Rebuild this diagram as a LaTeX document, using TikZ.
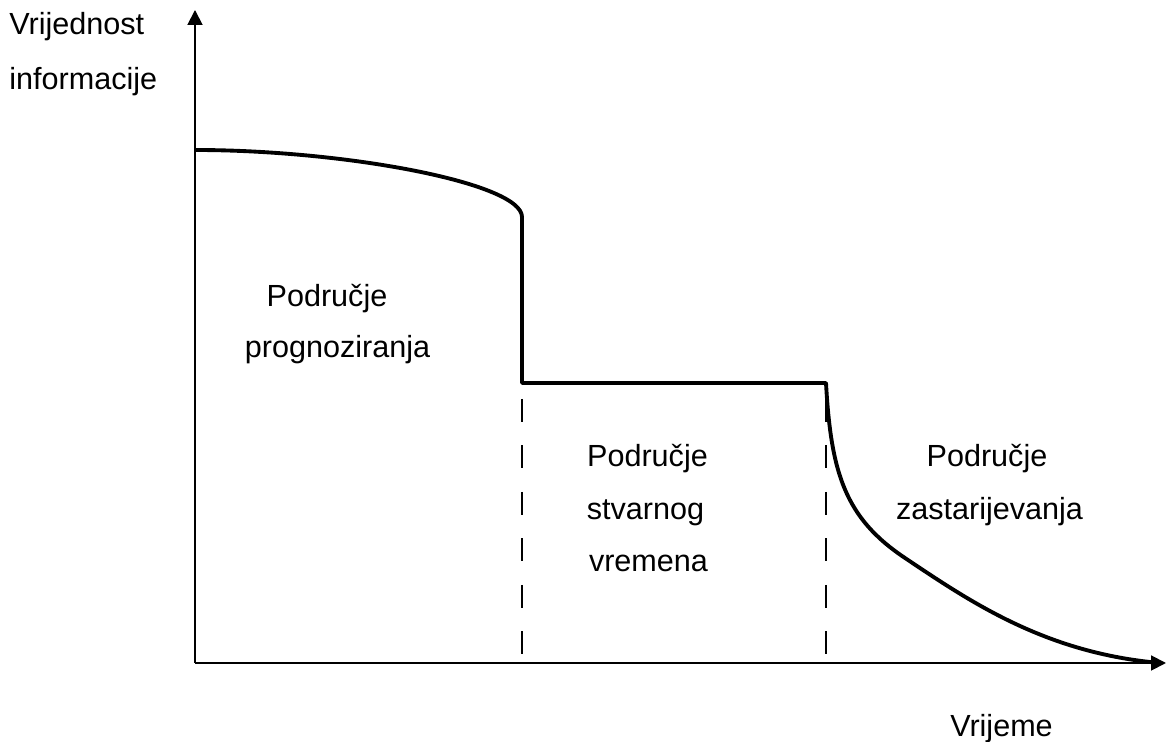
\documentclass[tikz,border=0pt]{standalone}
\usepackage{fontspec}
\setmainfont{Liberation Sans}
\usetikzlibrary{arrows.meta}
\tikzset{
    axis/.style={line width=1.1pt, -{Triangle[width=8.5pt,length=8.5pt]}},
    valuecurve/.style={line width=2.2pt, line join=round},
    border/.style={line width=0.85pt, dash pattern=on 0.46cm off 0.47cm},
    lbl/.style={anchor=base, inner sep=0pt, font=\fontsize{17.4}{20}\selectfont}
}
\begin{document}
\begin{tikzpicture}
            \useasboundingbox (-3.9,-1.58) rectangle (19.42,13.26);
            \coordinate (O) at (0,0);
            \coordinate (ytop) at (0,13.06);
            \coordinate (xend) at (19.42,0);
            \coordinate (c0) at (0,10.26);
            \coordinate (c1) at (6.54,8.92);
            \coordinate (c2) at (6.54,5.6);
            \coordinate (c3) at (12.62,5.6);
            \coordinate (c4) at (14.2,2.1);
            \coordinate (c5) at (19.3,0);
            \coordinate (d1) at (6.54,5.28);
            \coordinate (d1b) at (6.54,0.04);
            \coordinate (d2) at (12.62,5.28);
            \coordinate (d2b) at (12.62,0.04);
            % axes
            \draw[axis] (O) -- (ytop);
            \draw[axis] (O) -- (xend);
            % value of information
            \draw[valuecurve] (c0) .. controls (3.0,10.26) and (6.54,9.6) .. (c1) -- (c2) -- (c3)
                .. controls (12.72,3.8) and (13.0,2.9) .. (c4)
                .. controls (15.5,1.23) and (17.0,0.2) .. (c5);
            \draw[border] (d1) -- (d1b);
            \draw[border] (d2) -- (d2b);
            % labels
            \node[lbl, anchor=base west] (yl1) at (-3.72,12.56) {Vrijednost};
            \node[lbl, anchor=base west] (yl2) at (-3.72,11.46) {informacije};
            \node[lbl] (p1) at (2.64,7.12) {Područje};
            \node[lbl] (p2) at (2.85,6.1) {prognoziranja};
            \node[lbl] (s1) at (9.05,3.92) {Područje};
            \node[lbl] (s2) at (9.01,2.86) {stvarnog};
            \node[lbl] (s3) at (9.07,1.82) {vremena};
            \node[lbl] (z1) at (15.84,3.92) {Područje};
            \node[lbl] (z2) at (15.89,2.86) {zastarijevanja};
            \node[lbl] (xl) at (16.13,-1.48) {Vrijeme};
\end{tikzpicture}
\end{document}
